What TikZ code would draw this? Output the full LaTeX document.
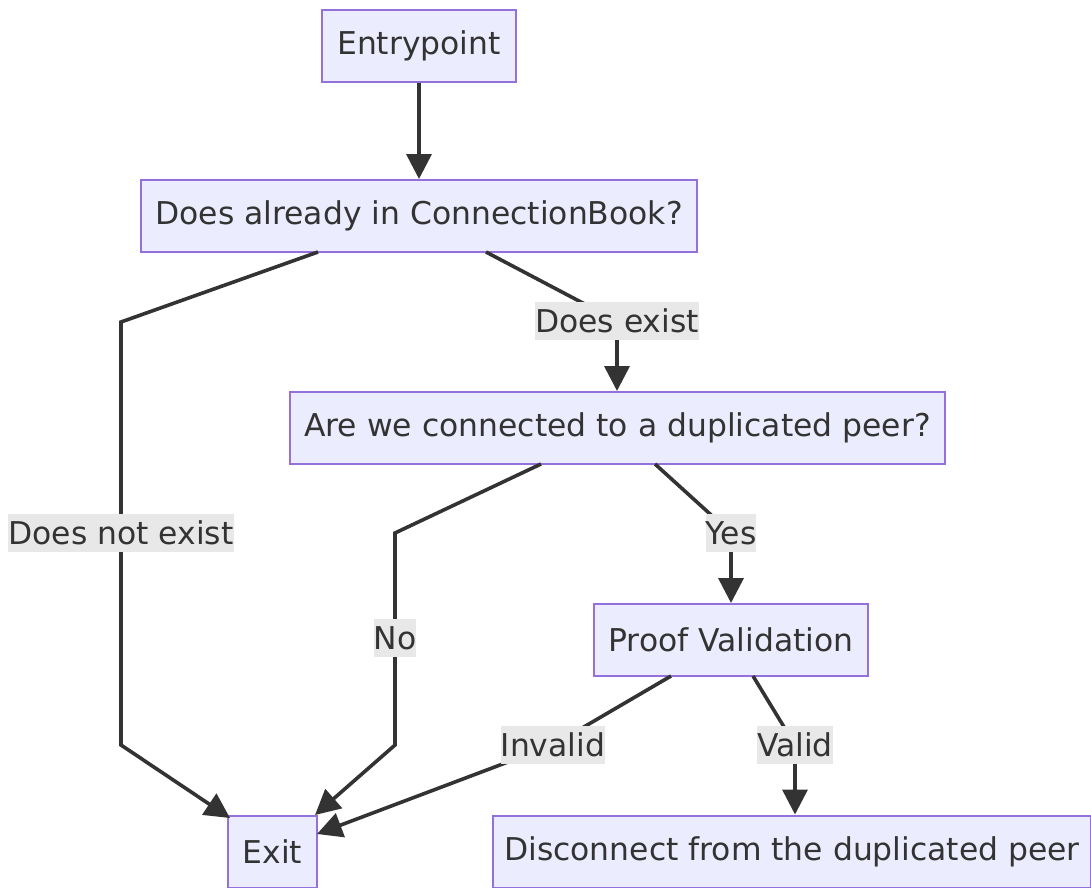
\documentclass[tikz,border=0pt]{standalone}
\usepackage{fontspec}
\setmainfont{DejaVu Sans}
\usetikzlibrary{arrows.meta}
\definecolor{nodefill}{HTML}{ECECFF}
\definecolor{nodeline}{HTML}{9370DB}
\definecolor{edgecol}{HTML}{333333}
\definecolor{lblbg}{HTML}{E8E8E8}
\begin{document}
\begin{tikzpicture}[x=1pt,y=-1pt,
  box/.style={draw=nodeline,fill=nodefill,line width=2pt,inner sep=0pt,minimum height=72pt,text=edgecol,font=\fontsize{31.4}{36}\selectfont},
  lbl/.style={fill=lblbg,inner sep=0pt,minimum height=38pt,text=edgecol,font=\fontsize{31.4}{36}\selectfont},
  edge/.style={draw=edgecol,line width=3.6pt,-{Triangle[length=25pt,width=25pt]}},
  plain/.style={draw=edgecol,line width=3.6pt}]
\useasboundingbox (0,0) rectangle (1091,887);
\node[box,minimum width=194pt] (entry) at (419,46) {Entrypoint};
\node[box,minimum width=556pt] (book) at (419,216) {Does already in ConnectionBook?};
\node[box,minimum width=655pt] (dup) at (617.5,428) {Are we connected to a duplicated peer?};
\node[box,minimum width=274pt] (proof) at (731,640) {Proof Validation};
\node[box,minimum width=89pt] (exit) at (272.5,851.5) {Exit};
\node[box,minimum width=598pt] (disc) at (792,851.5) {Disconnect from the duplicated peer};
\coordinate (a1) at (318,252);
\coordinate (a2) at (121,322);
\coordinate (a3) at (121,745);
\coordinate (a4) at (230,818);
\coordinate (b1) at (486,252);
\coordinate (b2) at (617,321);
\coordinate (c1) at (541,464);
\coordinate (c2) at (395,533);
\coordinate (c3) at (395,745);
\coordinate (c4) at (315,815);
\coordinate (d1) at (655,464);
\coordinate (d2) at (731,533);
\coordinate (e1) at (671,676);
\coordinate (e2) at (553,745);
\coordinate (e3) at (317,834);
\coordinate (f1) at (753,676);
\coordinate (f2) at (795,745);
\draw[edge] (entry) -- (book);
\draw[edge] (a1) -- (a2) -- (a3) -- (a4);
\draw[edge] (b1) -- (b2) -- (dup.north -| b2);
\draw[edge] (c1) -- (c2) -- (c3) -- (c4);
\draw[edge] (d1) -- (d2) -- (proof.north -| d2);
\draw[edge] (e1) -- (e2) -- (e3);
\draw[edge] (f1) -- (f2) -- (disc.north -| f2);
\node[lbl] (l1) at (121,533) {Does not exist};
\node[lbl] (l2) at (617,321) {Does exist};
\node[lbl] (l3) at (395,638) {No};
\node[lbl] (l4) at (731,533) {Yes};
\node[lbl] (l5) at (553,745) {Invalid};
\node[lbl] (l6) at (795,745) {Valid};
\end{tikzpicture}
\end{document}
